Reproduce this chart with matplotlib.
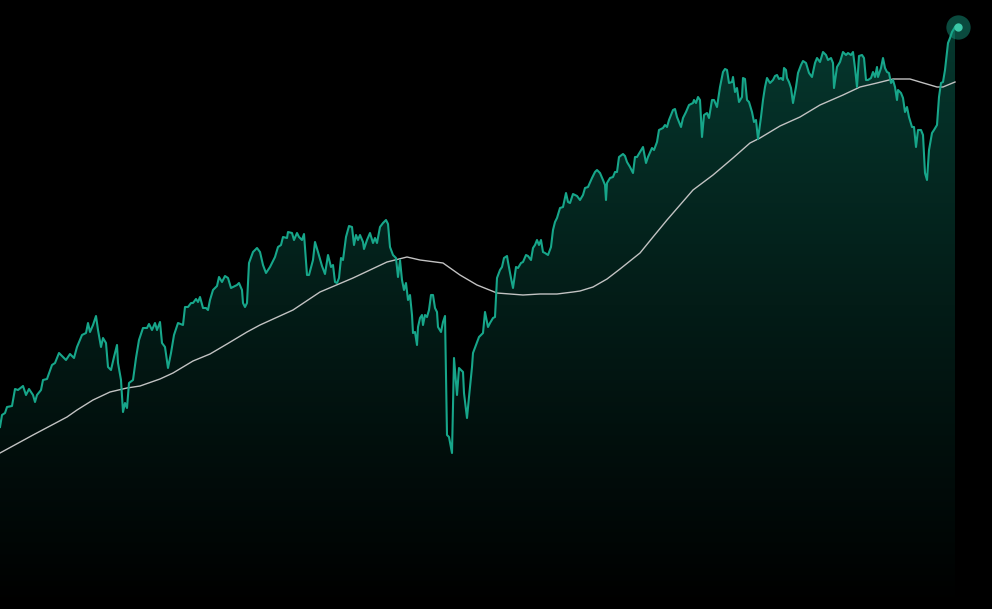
import numpy as np
import matplotlib
matplotlib.use("Agg")
import matplotlib.pyplot as plt
from matplotlib.colors import LinearSegmentedColormap

# price series (x position, level)
days = [0, 2, 5, 7, 12, 15, 18, 23, 26, 29, 33, 35, 37, 41, 43, 47, 52, 55, 59, 63,
        66, 70, 74, 77, 82, 86, 88, 90, 93, 96, 98, 101, 103, 106, 108, 111, 114, 117, 118, 121,
        123, 125, 127, 129, 133, 136, 139, 143, 147, 149, 152, 155, 157, 160, 162, 165, 168, 171, 174, 178,
        183, 185, 188, 191, 193, 196, 198, 200, 203, 206, 208, 210, 213, 217, 219, 222, 225, 228, 231, 233,
        237, 239, 242, 243, 245, 247, 249, 253, 257, 260, 263, 266, 270, 275, 278, 281, 283, 287, 288, 292,
        294, 297, 299, 302, 304, 307, 309, 313, 315, 318, 322, 325, 328, 331, 333, 335, 337, 339, 341, 343,
        346, 349, 352, 354, 356, 358, 360, 363, 364, 367, 370, 373, 375, 377, 380, 383, 386, 388, 390, 393,
        396, 398, 400, 402, 404, 406, 408, 410, 412, 413, 415, 417, 418, 420, 422, 423, 425, 427, 429, 431,
        433, 435, 437, 438, 441, 443, 445, 447, 449, 452, 454, 457, 459, 463, 464, 467, 469, 472, 473, 476,
        479, 483, 485, 488, 490, 493, 495, 497, 500, 502, 504, 507, 508, 511, 513, 516, 518, 521, 523, 526,
        528, 531, 533, 535, 537, 539, 541, 543, 545, 548, 551, 553, 555, 557, 560, 563, 566, 568, 570, 573,
        575, 577, 580, 583, 585, 588, 592, 595, 597, 600, 603, 605, 606, 607, 610, 613, 615, 617, 619, 623,
        625, 627, 630, 633, 635, 637, 640, 643, 646, 648, 652, 654, 657, 659, 663, 665, 667, 669, 673, 675,
        677, 681, 683, 686, 689, 693, 694, 696, 698, 700, 702, 704, 707, 709, 712, 714, 717, 720, 723, 725,
        727, 729, 732, 733, 735, 737, 739, 742, 743, 745, 747, 749, 752, 754, 756, 758, 761, 763, 765, 767,
        770, 773, 775, 777, 779, 781, 783, 784, 786, 787, 789, 791, 793, 796, 798, 801, 803, 806, 809, 812,
        815, 817, 820, 823, 826, 828, 831, 833, 834, 837, 840, 843, 846, 848, 851, 853, 855, 857, 859, 862,
        864, 866, 868, 871, 873, 875, 877, 878, 881, 883, 885, 887, 889, 891, 893, 895, 897, 898, 901, 903,
        905, 907, 909, 912, 914, 916, 918, 921, 923, 925, 927, 929, 932, 934, 937, 939, 941, 943, 945, 947,
        948, 950, 952, 955]
price = [182, 194, 196, 202, 203, 220, 219, 223, 214, 220, 214, 207, 214, 219, 229, 230, 244, 246, 256, 252,
         249, 255, 251, 262, 274, 276, 286, 277, 284, 293, 279, 262, 271, 266, 242, 239, 252, 264, 246, 229,
         197, 206, 201, 226, 229, 251, 269, 281, 281, 285, 279, 286, 279, 287, 266, 262, 241, 256, 274, 286,
         284, 302, 302, 306, 306, 310, 307, 312, 301, 301, 299, 309, 319, 323, 332, 327, 333, 331, 321, 322,
         324, 326, 319, 306, 302, 306, 346, 357, 361, 357, 344, 336, 342, 352, 362, 364, 372, 371, 377, 376,
         369, 376, 372, 369, 375, 334, 334, 349, 367, 357, 343, 335, 354, 342, 344, 327, 326, 331, 351, 349,
         372, 383, 382, 364, 374, 369, 374, 367, 360, 369, 376, 366, 371, 366, 382, 386, 389, 385, 362, 354,
         351, 332, 349, 329, 319, 326, 309, 314, 294, 276, 277, 264, 282, 291, 294, 284, 294, 292, 299, 314,
         314, 301, 297, 282, 277, 287, 293, 174, 172, 156, 251, 214, 241, 237, 216, 191, 212, 242, 256, 264,
         272, 276, 297, 282, 286, 291, 292, 331, 339, 342, 351, 353, 347, 331, 321, 342, 341, 346, 347, 354,
         353, 349, 361, 364, 369, 364, 369, 357, 356, 354, 362, 379, 387, 391, 401, 402, 416, 407, 406, 415,
         414, 413, 409, 414, 421, 422, 431, 437, 439, 436, 429, 424, 409, 426, 431, 432, 437, 437, 452, 455,
         453, 447, 442, 436, 452, 452, 457, 462, 446, 452, 461, 459, 467, 479, 481, 484, 482, 489, 499, 500,
         492, 482, 491, 497, 504, 506, 509, 506, 512, 509, 472, 494, 496, 491, 509, 509, 502, 522, 537, 540,
         539, 526, 527, 532, 517, 521, 507, 512, 531, 530, 509, 507, 497, 487, 489, 470, 492, 509, 522, 531,
         526, 529, 533, 534, 530, 531, 529, 541, 539, 531, 527, 521, 506, 522, 536, 544, 548, 546, 536, 532,
         546, 551, 547, 557, 554, 549, 551, 546, 521, 542, 547, 557, 554, 556, 554, 557, 541, 522, 553, 554,
         551, 529, 529, 531, 537, 532, 542, 532, 541, 551, 541, 537, 536, 526, 529, 522, 509, 519, 516, 511,
         497, 502, 492, 482, 482, 462, 479, 479, 474, 436, 429, 459, 476, 479, 484, 512, 526, 527, 539, 557,
         566, 571, 577, 582]

# moving average
ma_days = [0, 33, 67, 77, 93, 110, 127, 140, 160, 173, 193, 210, 227, 247, 260, 293, 320, 353, 387, 407,
           420, 443, 460, 477, 497, 523, 540, 557, 573, 580, 593, 607, 620, 640, 653, 667, 680, 693, 713, 733,
           750, 760, 780, 800, 820, 843, 860, 877, 893, 910, 920, 937, 943, 955]
ma_price = [156, 174, 192, 199, 209, 217, 221, 223, 230, 236, 248, 255, 265, 277, 284, 299, 317, 331, 347, 352,
            349, 346, 334, 324, 316, 314, 315, 315, 317, 318, 322, 330, 340, 356, 372, 389, 404, 419, 434, 451,
            466, 471, 483, 492, 504, 514, 522, 526, 530, 530, 527, 522, 522, 527]

teal = "#17a68a"

fig = plt.figure(figsize=(9.92, 6.09), dpi=100, facecolor="black")
ax = fig.add_axes([0, 0, 1, 1])
ax.set_facecolor("black")
ax.set_xlim(0, 992)
ax.set_ylim(0, 609)
ax.axis("off")

# gradient fill under the price line
fill = ax.fill_between(days, price, 0, color="none", lw=0)
cmap = LinearSegmentedColormap.from_list("fade", ["#000000", "#031c17", "#063a30"])
grad = np.linspace(0, 1, 256).reshape(-1, 1)
img = ax.imshow(grad, cmap=cmap, aspect="auto", origin="lower",
                extent=[0, 992, 0, 609], zorder=1)
img.set_clip_path(fill.get_paths()[0], transform=ax.transData)

ax.plot(ma_days, ma_price, color="#c2c2c2", lw=1.0, zorder=2, solid_joinstyle="round")
ax.plot(days, price, color=teal, lw=1.5, zorder=3)

# end point marker
ax.plot(days[-1] + 3, price[-1], "o", ms=17.5, color=teal, alpha=0.45, mec="none", zorder=4)
ax.plot(days[-1] + 3, price[-1], "o", ms=6, color="#3cc8a8", mec="none", zorder=5)

fig.savefig("out.png", dpi=100, facecolor="black")
